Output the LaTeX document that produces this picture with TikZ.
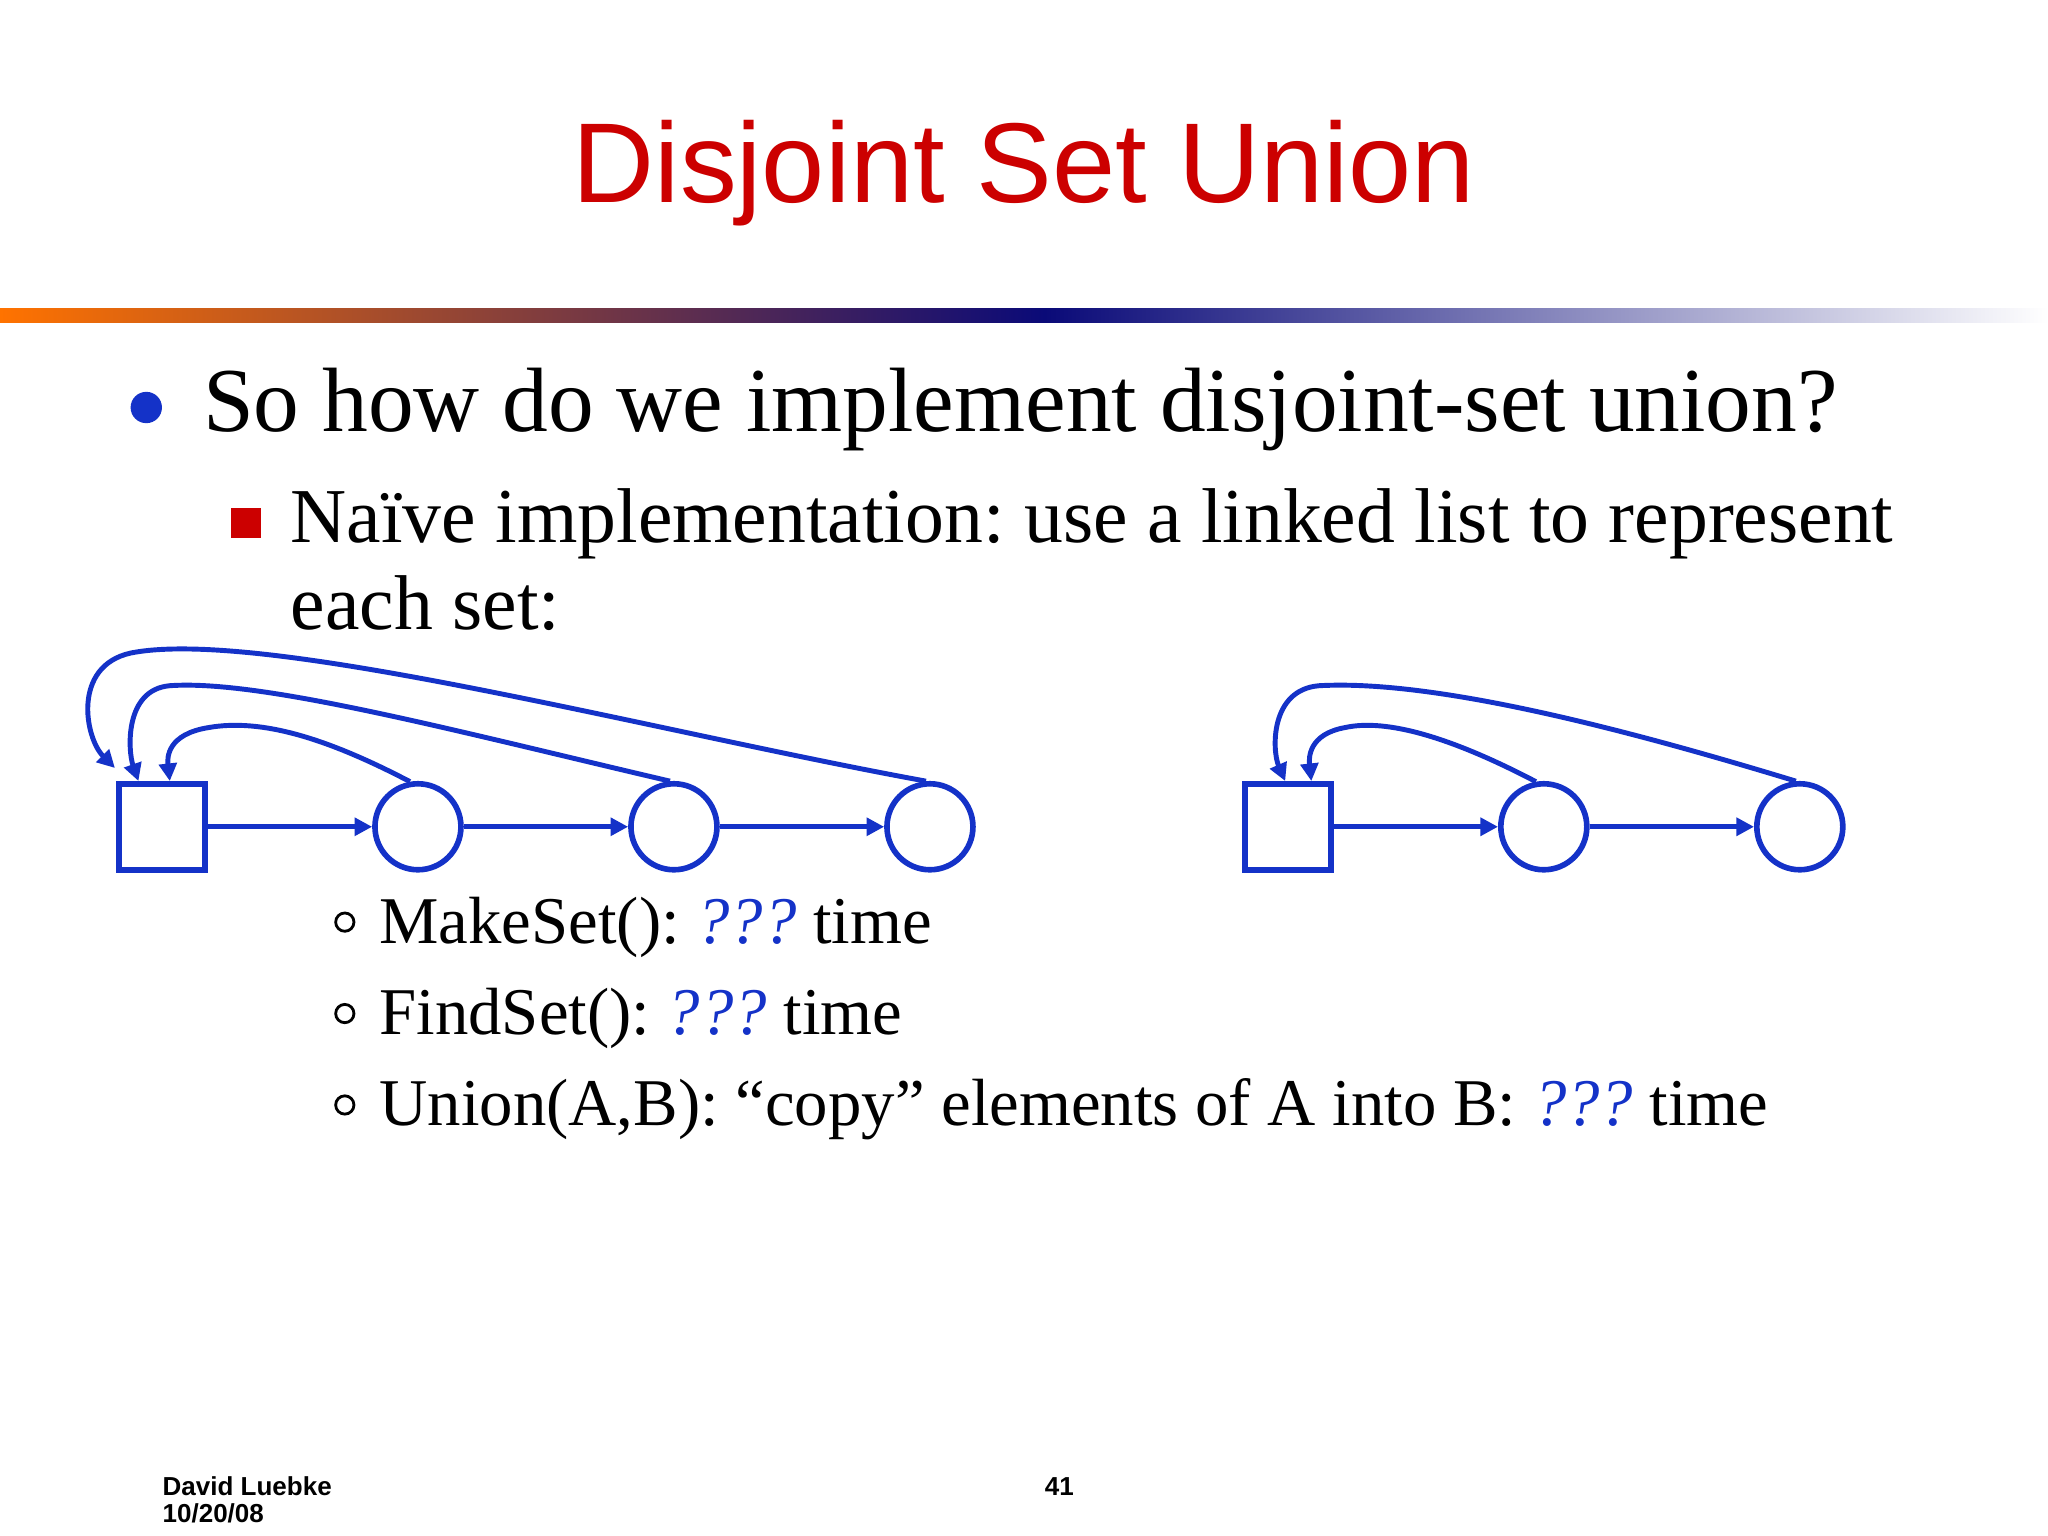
\documentclass[tikz,border=0pt]{standalone}
\usepackage{fontspec}
\setmainfont{Liberation Serif}
\setsansfont{Liberation Sans}
\usetikzlibrary{arrows.meta}
\definecolor{ttl}{RGB}{204,0,0}
\definecolor{lb}{RGB}{20,50,200}
\definecolor{navy}{RGB}{10,10,120}
\frenchspacing
\begin{document}
\frenchspacing
\begin{tikzpicture}[x=0.013061cm,y=-0.013061cm,
  lk/.style={draw=lb,line width=1.6pt},
  ar/.style={lb,line width=1.4pt,-{Triangle[length=5pt,width=5pt]}},
  sq/.style={lk,minimum size=0.86cm,inner sep=0pt},
  cir/.style={lk,circle,minimum size=0.86cm,inner sep=0pt},
  txt/.style={anchor=base west,inner sep=0pt}]
\useasboundingbox (0,0) rectangle (1568,1176);
\fill[white] (0,0) rectangle (1568,1176);
\shade[left color=orange!90!red,right color=navy] (0,236) rectangle (800,247);
\shade[left color=navy,right color=white] (800,236) rectangle (1568,247);
\node[anchor=base,text=ttl,font=\sffamily\fontsize{32.3}{36}\selectfont,inner sep=0pt] (title) at (784,155) {Disjoint Set Union};
\fill[lb] (112,312) circle (12);
\node[txt,font=\fontsize{26}{30}\selectfont] (b1) at (155,330) {So how do we implement disjoint-set union?};
\fill[ttl] (177,389) rectangle (200,412);
\node[txt,font=\fontsize{22.1}{26}\selectfont] (b2) at (222,415) {Naïve implementation: use a linked list to represent};
\node[txt,font=\fontsize{22.1}{26}\selectfont] (b3) at (222,482) {each set:};
\foreach \y/\t [count=\i] in {722/{MakeSet(): \textcolor{lb}{\itshape ???} time},792/{FindSet(): \textcolor{lb}{\itshape ???} time},862/{Union(A,B): “copy” elements of A into B: \textcolor{lb}{\itshape ???} time}}{
  \draw[black,line width=0.8pt] (264,\y-16) circle (7);
  \node[txt,font=\fontsize{19}{24}\selectfont] (s\i) at (290,\y) {\t};}
% left list
\node[sq] (a0) at (124,633) {};
\node[cir] (a1) at (320,633) {};
\node[cir] (a2) at (516,633) {};
\node[cir] (a3) at (712,633) {};
\draw[ar] (a0) -- (a1); \draw[ar] (a1) -- (a2); \draw[ar] (a2) -- (a3);
\draw[ar] (a1.100) .. controls (250,565) and (200,550) .. (160,557) .. controls (128,562) and (128,580) .. (130,598);
\draw[ar] (a2.95) .. controls (350,560) and (200,520) .. (130,525) .. controls (95,528) and (98,575) .. (106,598);
\draw[ar] (a3.95) .. controls (500,560) and (200,480) .. (100,500) .. controls (55,510) and (65,565) .. (88,588);
% right list
\node[sq] (b0) at (986,633) {};
\node[cir] (c1) at (1182,633) {};
\node[cir] (c2) at (1378,633) {};
\draw[ar] (b0) -- (c1); \draw[ar] (c1) -- (c2);
\draw[ar] (c1.100) .. controls (1112,565) and (1062,550) .. (1030,557) .. controls (1002,562) and (1002,580) .. (1004,598);
\draw[ar] (c2.95) .. controls (1250,560) and (1100,520) .. (1010,525) .. controls (972,528) and (974,575) .. (984,598);
\node[txt,font=\sffamily\bfseries\fontsize{7.4}{9}\selectfont] (f1) at (124,1145) {David Luebke};
\node[txt,font=\sffamily\bfseries\fontsize{7.4}{9}\selectfont] (f2) at (124,1166) {10/20/08};
\node[anchor=base,inner sep=0pt,font=\sffamily\bfseries\fontsize{7.4}{9}\selectfont] (f3) at (811,1145) {41};
\end{tikzpicture}
\end{document}
